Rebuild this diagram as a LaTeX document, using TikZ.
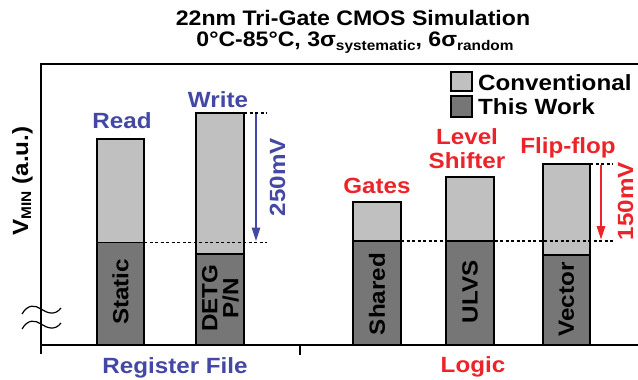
\documentclass[tikz,border=0pt]{standalone}
\usepackage{fontspec}
\setmainfont{Liberation Sans}[FakeStretch=1.1]
\usetikzlibrary{arrows.meta}
\definecolor{lightbar}{HTML}{C0C0C0}
\definecolor{darkbar}{HTML}{767676}
\definecolor{rfblue}{RGB}{67,72,165}
\definecolor{lgred}{RGB}{237,35,42}
\newcommand\mysub[1]{\raisebox{-4pt}{\fontsize{14}{14}\selectfont #1}}
\begin{document}
\begin{tikzpicture}[x=1pt,y=-1pt,
  txt/.style={font=\fontsize{22}{22}\selectfont\bfseries, inner sep=0pt},
  ttl/.style={font=\fontsize{21}{21}\selectfont\bfseries, inner sep=0pt},
  barline/.style={draw=black, line width=1.6pt},
  axisline/.style={draw=black, line width=1.3pt},
  refline/.style={draw=black, line width=1.2pt, dash pattern=on 3pt off 2.5pt},
  gaparrow/.style={line width=2.6pt, -{Triangle[length=14pt,width=8pt]}, shorten >=1pt},
  breakmark/.style={draw=black, line width=1.2pt}]
\useasboundingbox (0,0) rectangle (638,380);
% title
\node[ttl, anchor=base] (t1) at (353,25) {22nm Tri-Gate CMOS Simulation};
\node[ttl, anchor=base] (t2) at (355,46.5) {0°C-85°C, 3σ\mysub{systematic}, 6σ\mysub{random}};
% frame
\coordinate (tl) at (41,64);
\coordinate (tr) at (638,64);
\coordinate (bl) at (41,345);
\coordinate (br) at (638,345);
\coordinate (axbot) at (41,354);
\coordinate (sep) at (300,345);
\coordinate (sepbot) at (300,355);
\draw[axisline] (tr) -- (tl) -- (axbot);
\draw[axisline] (bl) -- (br);
\draw[axisline] (sep) -- (sepbot);
% axis break marks
\draw[breakmark] (22,314) .. controls (28,304) and (35,305) .. (41,309) .. controls (47,313) and (55,316) .. (61,308);
\draw[breakmark] (22,329) .. controls (28,319) and (35,320) .. (41,324) .. controls (47,328) and (55,331) .. (61,323);
% y label
\node[txt, rotate=90, anchor=base] (ylab) at (28,181) {V\raisebox{-3pt}{\fontsize{14}{14}\selectfont MIN} (a.u.)};
% bars
\draw[barline, fill=lightbar] (97,139) rectangle (144,345);
\draw[barline, fill=darkbar] (97,242.5) rectangle (144,345);
\draw[barline, fill=lightbar] (196,113) rectangle (244,345);
\draw[barline, fill=darkbar] (196,254) rectangle (244,345);
\draw[barline, fill=lightbar] (353,202) rectangle (401,345);
\draw[barline, fill=darkbar] (353,241) rectangle (401,345);
\draw[barline, fill=lightbar] (446,177) rectangle (494,345);
\draw[barline, fill=darkbar] (446,241) rectangle (494,345);
\draw[barline, fill=lightbar] (543,164) rectangle (590,345);
\draw[barline, fill=darkbar] (543,255) rectangle (590,345);
% bar texts
\node[txt, rotate=90] (static) at (120.5,292) {Static};
\node[txt, rotate=90, align=center] (detg) at (220.5,298) {DETG\\[-1pt]P/N};
\node[txt, rotate=90] (shared) at (377,294) {Shared};
\node[txt, rotate=90] (ulvs) at (470,292) {ULVS};
\node[txt, rotate=90] (vector) at (566.5,299.5) {Vector};
% labels above bars
\node[txt, text=rfblue, anchor=base] (read) at (122,128) {Read};
\node[txt, text=rfblue, anchor=base] (write) at (218,107) {Write};
\node[txt, text=lgred, anchor=base] (gates) at (377,193) {Gates};
\node[txt, text=lgred, anchor=base] (level) at (467,144) {Level};
\node[txt, text=lgred, anchor=base] (shifter) at (467,168) {Shifter};
\node[txt, text=lgred, anchor=base] (flip) at (568,153) {Flip-flop};
% group labels
\node[txt, text=rfblue, anchor=base] (rf) at (175,373) {Register File};
\node[txt, text=lgred, anchor=base] (logic) at (473,372) {Logic};
% reference dashed lines
\coordinate (ldA) at (144,242.5);
\coordinate (ldB) at (267,242.5);
\coordinate (ltA) at (244,113);
\coordinate (ltB) at (267,113);
\coordinate (rdA) at (401,241);
\coordinate (rdB) at (613,241);
\coordinate (rtA) at (590,164);
\coordinate (rtB) at (613,164);
\draw[refline] (ldA) -- (ldB);
\draw[refline] (ltA) -- (ltB);
\draw[refline] (rdA) -- (rdB);
\draw[refline] (rtA) -- (rtB);
% arrows
\coordinate (baT) at (256,114);
\coordinate (baB) at (256,242.5);
\coordinate (raT) at (601,165);
\coordinate (raB) at (601,241);
\draw[gaparrow, rfblue] (baT) -- (baB);
\draw[gaparrow, lgred] (raT) -- (raB);
\node[txt, text=rfblue, rotate=90, anchor=base] (mv250) at (285,177) {250mV};
\node[txt, text=lgred, rotate=90, anchor=base] (mv150) at (633,201) {150mV};
% legend
\draw[barline, line width=1.4pt, fill=lightbar] (451,72) rectangle (472,91);
\draw[barline, line width=1.4pt, fill=darkbar] (451,96) rectangle (472,117);
\node[txt, anchor=base west] (leg1) at (478,90) {Conventional};
\node[txt, anchor=base west] (leg2) at (478,114) {This Work};
\end{tikzpicture}
\end{document}
